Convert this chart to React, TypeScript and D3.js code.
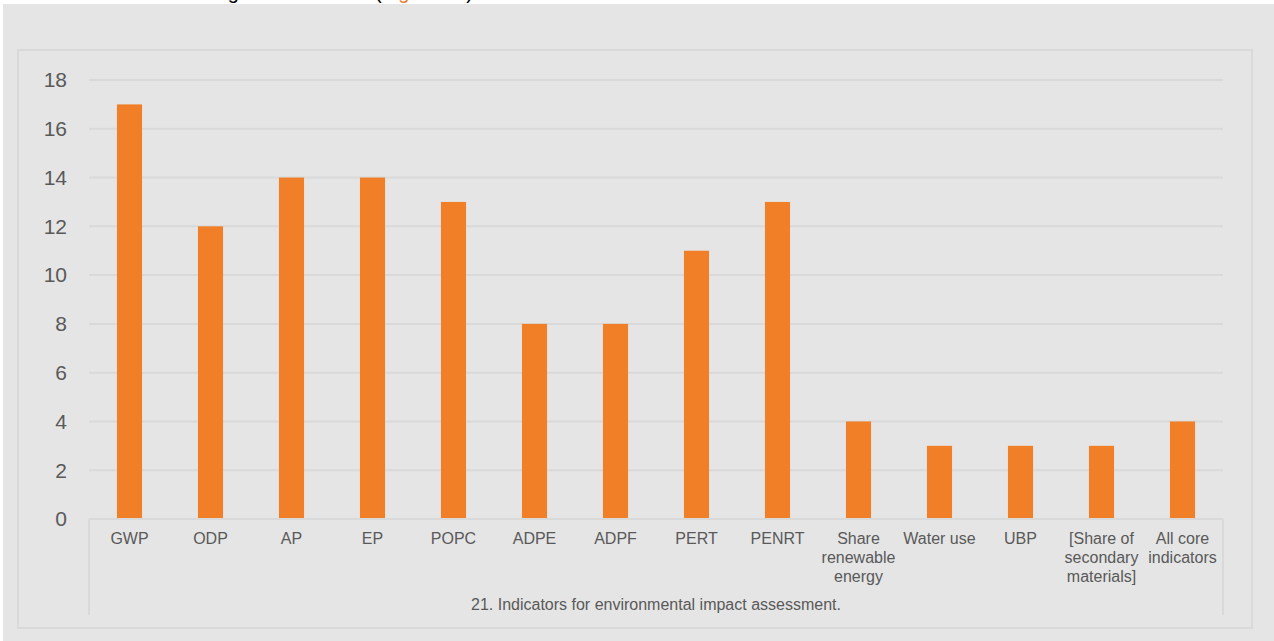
import React from "react";
import * as d3 from "d3";

const categories: string[][] = [
  ["GWP"], ["ODP"], ["AP"], ["EP"], ["POPC"], ["ADPE"], ["ADPF"], ["PERT"], ["PENRT"],
  ["Share", "renewable", "energy"], ["Water use"], ["UBP"],
  ["[Share of", "secondary", "materials]"], ["All core", "indicators"],
];
const values: number[] = [17, 12, 14, 14, 13, 8, 8, 11, 13, 4, 3, 3, 3, 4];
const yTicks: number[] = [0, 2, 4, 6, 8, 10, 12, 14, 16, 18];
const groupLabel = "21. Indicators for environmental impact assessment.";

const W = 1274, H = 641;
const plotLeft = 89, plotRight = 1223, plotTop = 80, plotBottom = 519;
const axisBoxBottom = 615;
const textColor = "#595959";
const barColor = "#F07F27";
const font = "'Liberation Sans', Arial, sans-serif";

export default function App() {
  const x = d3.scaleBand<number>()
    .domain(d3.range(values.length))
    .range([plotLeft, plotRight])
    .paddingInner(0.69)
    .paddingOuter(0.345);
  const band = d3.scaleBand<number>().domain(d3.range(values.length)).range([plotLeft, plotRight]);
  const y = d3.scaleLinear().domain([0, 18]).range([plotBottom, plotTop]);

  return (
    <div style={{ position: "fixed", left: 0, top: 0, width: W, height: H, background: "#fff" }}>
      <svg width={W} height={H} style={{ display: "block" }}>
        <rect x={0} y={0} width={W} height={H} fill="#fff" />
        <text x={369} y={-1} textAnchor="end" fontFamily={font} fontSize={20} fill="#000">
          The number of studies including each indicator
        </text>
        <text x={375} y={-1} fontFamily={font} fontSize={20} fill="#000">
          (<tspan fill="#ED7D31">Figure 21</tspan>)
        </text>
        <rect x={3} y={4} width={W - 3} height={H - 4} fill="#E5E5E5" />
        <rect x={18} y={50} width={1234} height={578} fill="none" stroke="#D9D9D9" strokeWidth={2} />
        {yTicks.map((t) => (
          <g key={t}>
            {t > 0 && (
              <line x1={plotLeft} x2={plotRight} y1={y(t)} y2={y(t)} stroke="#D9D9D9" strokeWidth={2} />
            )}
            <text x={67} y={y(t)} dy="0.35em" textAnchor="end" fontFamily={font} fontSize={21} fill={textColor}>
              {t}
            </text>
          </g>
        ))}
        {values.map((v, i) => (
          <rect key={i} x={x(i)} y={y(v)} width={x.bandwidth()} height={y(0) - y(v)} fill={barColor} />
        ))}
        <line x1={plotLeft} x2={plotRight} y1={plotBottom} y2={plotBottom} stroke="#D9D9D9" strokeWidth={2} />
        <line x1={plotLeft} x2={plotLeft} y1={plotBottom} y2={axisBoxBottom} stroke="#D9D9D9" strokeWidth={2} />
        <line x1={plotRight} x2={plotRight} y1={plotBottom} y2={axisBoxBottom} stroke="#D9D9D9" strokeWidth={2} />
        {categories.map((lines, i) => (
          <text key={i} textAnchor="middle" fontFamily={font} fontSize={16} fill={textColor}>
            {lines.map((l, j) => (
              <tspan key={j} x={(band(i) as number) + band.bandwidth() / 2} y={544 + j * 19}>
                {l}
              </tspan>
            ))}
          </text>
        ))}
        <text x={(plotLeft + plotRight) / 2} y={610} textAnchor="middle" fontFamily={font} fontSize={16} fill={textColor}>
          {groupLabel}
        </text>
      </svg>
    </div>
  );
}
